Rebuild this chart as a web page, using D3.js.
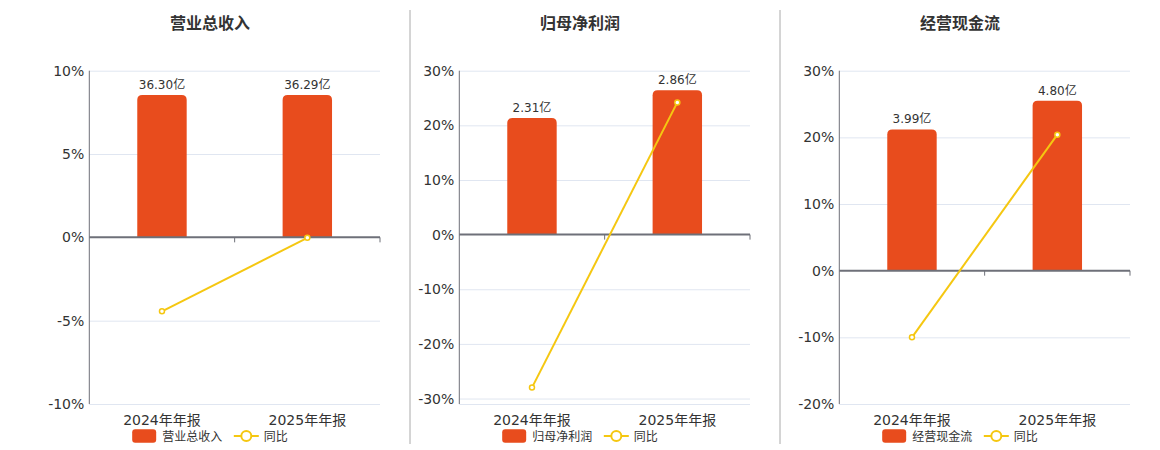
<!DOCTYPE html>
<html>
<head>
<meta charset="utf-8">
<script src="https://d3js.org/d3.v7.min.js"></script>
<style>
  body { margin: 0; background: #fff; }
  text { font-family: "DejaVu Sans", "Noto Sans CJK SC", sans-serif; }
</style>
</head>
<body>
<svg id="chart" width="1160" height="450"></svg>
<script>
// data
var categories = ["2024年年报", "2025年年报"];
var titles = ["营业总收入", "归母净利润", "经营现金流"];
var revenue = [36.30, 36.29];
var netProfit = [2.31, 2.86];
var cashFlow = [3.99, 4.80];
var revenueYoy = [-4.44, -0.03];
var profitYoy = [-28.0, 24.2];
var cashYoy = [-10.0, 20.4];
var pctTicks = [[10, 5, 0, -5, -10], [30, 20, 10, 0, -10, -20, -30], [30, 20, 10, 0, -10, -20]];
var pctDomains = [[-10, 10], [-31, 30], [-20, 30]];
var barMax = [42.5, 3.25, 5.65];

var barColor = "#e84c1d", lineColor = "#f5c711", gridColor = "#e0e6f1", axisColor = "#6e7079";

var svg = d3.select("#chart");

var panels = [
  {left: 89.3, right: 380, center: 210, bars: revenue, yoy: revenueYoy},
  {left: 459.3, right: 750, center: 580, bars: netProfit, yoy: profitYoy},
  {left: 839.3, right: 1130, center: 960, bars: cashFlow, yoy: cashYoy}
];
var plotTop = 70.7, plotBottom = 404;

// separators
[410, 780].forEach(function(x) {
  svg.append("line").attr("x1", x).attr("x2", x).attr("y1", 10).attr("y2", 444)
    .attr("stroke", "#aaa").attr("stroke-width", 1);
});

panels.forEach(function(p, i) {
  var g = svg.append("g");

  var x = d3.scaleBand().domain(categories).range([p.left, p.right]).padding(0);
  var y = d3.scaleLinear().domain(pctDomains[i]).range([plotBottom, plotTop]);
  var y0 = y(0);
  var yb = d3.scaleLinear().domain([0, barMax[i]]).range([y0, plotTop]);

  // title
  g.append("text").attr("x", p.center).attr("y", 29)
    .attr("text-anchor", "middle").attr("font-size", 16).attr("font-weight", "bold")
    .attr("fill", "#333").text(titles[i]);

  // grid
  var gridVals = pctTicks[i].filter(function(v) { return v !== 0; }).concat([pctDomains[i][0]]);
  g.selectAll(".grid").data(gridVals).enter().append("line")
    .attr("x1", p.left).attr("x2", p.right)
    .attr("y1", function(d) { return y(d) + 0.5; }).attr("y2", function(d) { return y(d) + 0.5; })
    .attr("stroke", gridColor).attr("stroke-width", 1);

  // y axis
  g.append("line").attr("x1", p.left).attr("x2", p.left).attr("y1", plotTop).attr("y2", plotBottom)
    .attr("stroke", axisColor).attr("stroke-width", 1);
  g.selectAll(".ytick").data(pctTicks[i]).enter().append("text")
    .attr("x", p.left - 5).attr("y", function(d) { return y(d); }).attr("dy", "0.36em")
    .attr("text-anchor", "end").attr("font-size", 14).attr("fill", "#333")
    .text(function(d) { return d + "%"; });

  // bars with rounded tops
  var bw = x.bandwidth() * 0.34, r = 5;
  g.selectAll(".bar").data(p.bars).enter().append("path")
    .attr("fill", barColor)
    .attr("d", function(d, j) {
      var cx = x(categories[j]) + x.bandwidth() / 2;
      var x0 = cx - bw / 2, x1 = cx + bw / 2, yt = yb(d);
      var path = d3.path();
      path.moveTo(x0, y0);
      path.lineTo(x0, yt + r);
      path.quadraticCurveTo(x0, yt, x0 + r, yt);
      path.lineTo(x1 - r, yt);
      path.quadraticCurveTo(x1, yt, x1, yt + r);
      path.lineTo(x1, y0);
      path.closePath();
      return path.toString();
    });
  g.selectAll(".blabel").data(p.bars).enter().append("text")
    .attr("x", function(d, j) { return x(categories[j]) + x.bandwidth() / 2; })
    .attr("y", function(d) { return yb(d) - 6; })
    .attr("text-anchor", "middle").attr("font-size", 12).attr("fill", "#333")
    .text(function(d) { return d.toFixed(2) + "亿"; });

  // zero axis
  g.append("line").attr("x1", p.left).attr("x2", p.right).attr("y1", y0).attr("y2", y0)
    .attr("stroke", axisColor).attr("stroke-width", 2);
  var bounds = categories.map(function(c) { return x(c) + x.bandwidth(); });
  g.selectAll(".xtick").data(bounds).enter().append("line")
    .attr("x1", function(d) { return d; }).attr("x2", function(d) { return d; })
    .attr("y1", y0).attr("y2", y0 + 5).attr("stroke", axisColor).attr("stroke-width", 1);

  // x labels
  g.selectAll(".xlabel").data(categories).enter().append("text")
    .attr("x", function(d) { return x(d) + x.bandwidth() / 2; }).attr("y", 425)
    .attr("text-anchor", "middle").attr("font-size", 14).attr("fill", "#333")
    .text(function(d) { return d; });

  // yoy line
  var line = d3.line()
    .x(function(d, j) { return x(categories[j]) + x.bandwidth() / 2; })
    .y(function(d) { return y(d); });
  g.append("path").datum(p.yoy).attr("fill", "none").attr("stroke", lineColor)
    .attr("stroke-width", 2).attr("d", line);
  g.selectAll(".pt").data(p.yoy).enter().append("circle")
    .attr("cx", function(d, j) { return x(categories[j]) + x.bandwidth() / 2; })
    .attr("cy", function(d) { return y(d); })
    .attr("r", 2.5).attr("fill", "#fff").attr("stroke", lineColor).attr("stroke-width", 1.5);

  // legend
  var lg = g.append("g");
  lg.append("rect").attr("x", 0).attr("y", 429.3).attr("width", 24).attr("height", 13.4)
    .attr("rx", 3).attr("fill", barColor);
  var t1 = lg.append("text").attr("x", 30).attr("y", 440.5).attr("font-size", 12)
    .attr("fill", "#333").text(titles[i]);
  var w1 = t1.node().getComputedTextLength();
  var ix = 30 + w1 + 11.6;
  lg.append("line").attr("x1", ix).attr("x2", ix + 25).attr("y1", 436).attr("y2", 436)
    .attr("stroke", lineColor).attr("stroke-width", 2);
  lg.append("circle").attr("cx", ix + 12.5).attr("cy", 436).attr("r", 5)
    .attr("fill", "#fff").attr("stroke", lineColor).attr("stroke-width", 2);
  var t2 = lg.append("text").attr("x", ix + 30).attr("y", 440.5).attr("font-size", 12)
    .attr("fill", "#333").text("同比");
  var total = ix + 30 + t2.node().getComputedTextLength();
  lg.attr("transform", "translate(" + (p.center - total / 2) + ",0)");
});
</script>
</body>
</html>
